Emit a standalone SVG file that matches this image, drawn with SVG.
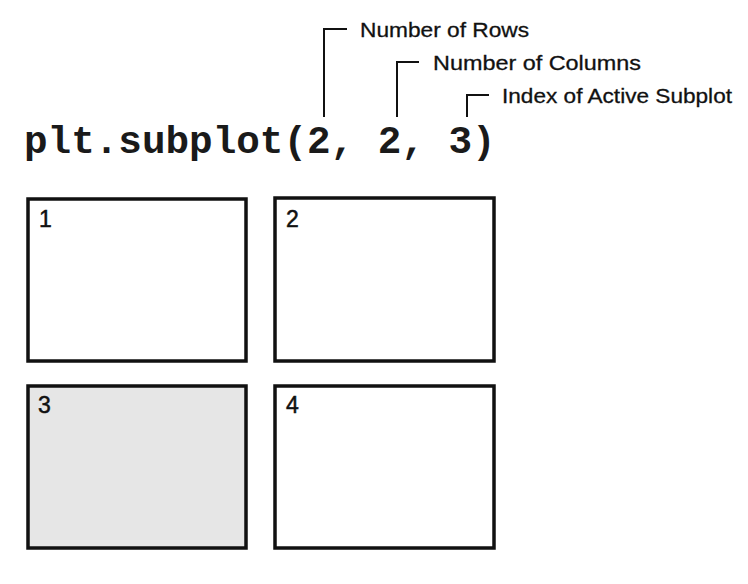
<svg xmlns="http://www.w3.org/2000/svg" width="748" height="584" viewBox="0 0 748 584">
<style>
.box{fill:#ffffff;stroke:#111111;stroke-width:3.5}
.active{fill:#e6e6e6}
.num{font-family:"Liberation Sans","DejaVu Sans",sans-serif;font-size:23px;fill:#111111;stroke:#111111;stroke-width:0.5}
.ann{font-family:"Liberation Sans","DejaVu Sans",sans-serif;font-size:21px;fill:#111111;stroke:#111111;stroke-width:0.3}
.code{font-family:"Courier New","Liberation Mono","DejaVu Sans Mono",monospace;font-size:39.3px;font-weight:bold;fill:#1a1a1a}
.lead{fill:none;stroke:#111111;stroke-width:2}
</style>
<rect width="748" height="584" fill="#ffffff"/>
<g id="code">
<text class="code" x="24" y="153">plt.subplot(2, 2, 3)</text>
</g>
<g id="annotations">
<text class="ann" x="360" y="37" textLength="169" lengthAdjust="spacingAndGlyphs">Number of Rows</text>
<text class="ann" x="433" y="70" textLength="208" lengthAdjust="spacingAndGlyphs">Number of Columns</text>
<text class="ann" x="502" y="103" textLength="230" lengthAdjust="spacingAndGlyphs">Index of Active Subplot</text>
</g>
<g id="connectors">
<polyline class="lead" points="324,117 324,29 347,29"/>
<polyline class="lead" points="397,117 397,62 419,62"/>
<polyline class="lead" points="467,117 467,95 489,95"/>
</g>
<g id="subplot1">
<rect class="box" x="28" y="199" width="218" height="162"/>
<text class="num" x="39" y="227">1</text>
</g>
<g id="subplot2">
<rect class="box" x="275" y="198" width="219" height="163"/>
<text class="num" x="286" y="227">2</text>
</g>
<g id="subplot3">
<rect class="box active" x="28" y="386" width="218" height="162"/>
<text class="num" x="38" y="413">3</text>
</g>
<g id="subplot4">
<rect class="box" x="275" y="386" width="219" height="162"/>
<text class="num" x="286" y="413">4</text>
</g>
</svg>
